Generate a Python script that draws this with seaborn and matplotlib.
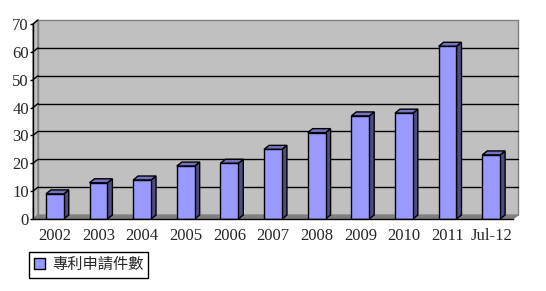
import matplotlib
matplotlib.use("Agg")
import matplotlib.pyplot as plt
import seaborn as sns
import numpy as np
from matplotlib.patches import Polygon, Patch

categories = ["2002", "2003", "2004", "2005", "2006", "2007", "2008", "2009", "2010", "2011", "Jul-12"]
values = [9, 13, 14, 19, 20, 25, 31, 37, 38, 62, 23]
series_name = "專利申請件數"
y_ticks = [0, 10, 20, 30, 40, 50, 60, 70]

sns.set_style("white")
plt.rcParams['font.family'] = ['Liberation Serif', 'DejaVu Sans']

W, H = 546, 291
fig = plt.figure(figsize=(W / 100, H / 100), dpi=100)
fig.patch.set_facecolor("white")
ax = fig.add_axes([33 / W, (H - 219) / H, 480 / W, (219 - 24) / H])
ax.patch.set_visible(False)

sns.barplot(x=categories, y=values, color="#9999FF", saturation=1, edgecolor="black",
            linewidth=1, width=0.41, ax=ax, zorder=3)
ax.set_xlim(-0.5, len(categories) - 0.5)
ax.set_ylim(0, 70)
ax.set_xlabel("")
ax.set_ylabel("")

DX, DY = 5, 4  # depth offset in pixels
inv = ax.transData.inverted()


def off(x, y, dx=DX, dy=DY):
    p = ax.transData.transform((x, y))
    return tuple(inv.transform((p[0] + dx, p[1] + dy)))


x0, x1 = -0.5, len(categories) - 0.5
ymax = 70
# back wall
wall = Polygon([off(x0, 0), off(x1, 0), off(x1, ymax), off(x0, ymax)], closed=True,
               facecolor="#C0C0C0", edgecolor="#808080", lw=1, zorder=0.5, clip_on=False)
ax.add_patch(wall)
# left wall
lwall = Polygon([(x0, 0), off(x0, 0), off(x0, ymax), (x0, ymax)], closed=True,
                facecolor="#C0C0C0", edgecolor="#808080", lw=1, zorder=0.5, clip_on=False)
ax.add_patch(lwall)
# floor
floor = Polygon([(x0, 0), (x1, 0), off(x1, 0), off(x0, 0)], closed=True,
                facecolor="#808080", edgecolor="#808080", lw=0.8, zorder=0.7, clip_on=False)
ax.add_patch(floor)
# gridlines
for v in y_ticks:
    if 0 < v < ymax:
        a, b = off(x0, v), off(x1, v)
        ax.plot([a[0], b[0]], [a[1], b[1]], color="black", lw=1, zorder=0.6, clip_on=False)
    if v > 0:
        c = off(x0, v)
        ax.plot([x0, c[0]], [v, c[1]], color="black", lw=1, zorder=0.6, clip_on=False)

# 3D faces on bars
for bar in ax.containers[0]:
    bx0 = bar.get_x()
    bx1 = bx0 + bar.get_width()
    h = bar.get_height()
    side = Polygon([(bx1, 0), (bx1, h), off(bx1, h), off(bx1, 0)], closed=True,
                   facecolor="#4D4D80", edgecolor="black", lw=1, zorder=2.9, clip_on=False)
    top = Polygon([(bx0, h), (bx1, h), off(bx1, h), off(bx0, h)], closed=True,
                  facecolor="#7373BF", edgecolor="black", lw=1, zorder=2.9, clip_on=False)
    ax.add_patch(side)
    ax.add_patch(top)

for s in ["top", "right"]:
    ax.spines[s].set_visible(False)
for s in ["left", "bottom"]:
    ax.spines[s].set_color("black")
    ax.spines[s].set_linewidth(1)
    ax.spines[s].set_zorder(4)

ax.set_yticks(y_ticks)
ax.set_yticklabels([str(v) for v in y_ticks])
ax.tick_params(axis="y", length=2, width=1, color="black", pad=1, labelsize=12, left=True)
ax.tick_params(axis="x", length=0, pad=6.5, labelsize=12)
ax.set_xticks(np.arange(len(categories) + 1) - 0.5, minor=True)
ax.tick_params(axis="x", which="minor", length=3, direction="in", color="black", bottom=True)

handle = Patch(facecolor="#9999FF", edgecolor="black", lw=1)
leg = fig.legend([handle], [series_name], loc="upper left",
                 bbox_to_anchor=(29 / W, 1 - 251.5 / H), borderaxespad=0,
                 fancybox=False, frameon=True, edgecolor="black", framealpha=1,
                 handlelength=0.75, handleheight=0.75, handletextpad=0.45, borderpad=0.3,
                 prop={"family": ["Noto Sans CJK TC", "DejaVu Sans"], "size": 11})
leg.get_frame().set_linewidth(1)

fig.savefig("out.png", dpi=100, facecolor="white")
